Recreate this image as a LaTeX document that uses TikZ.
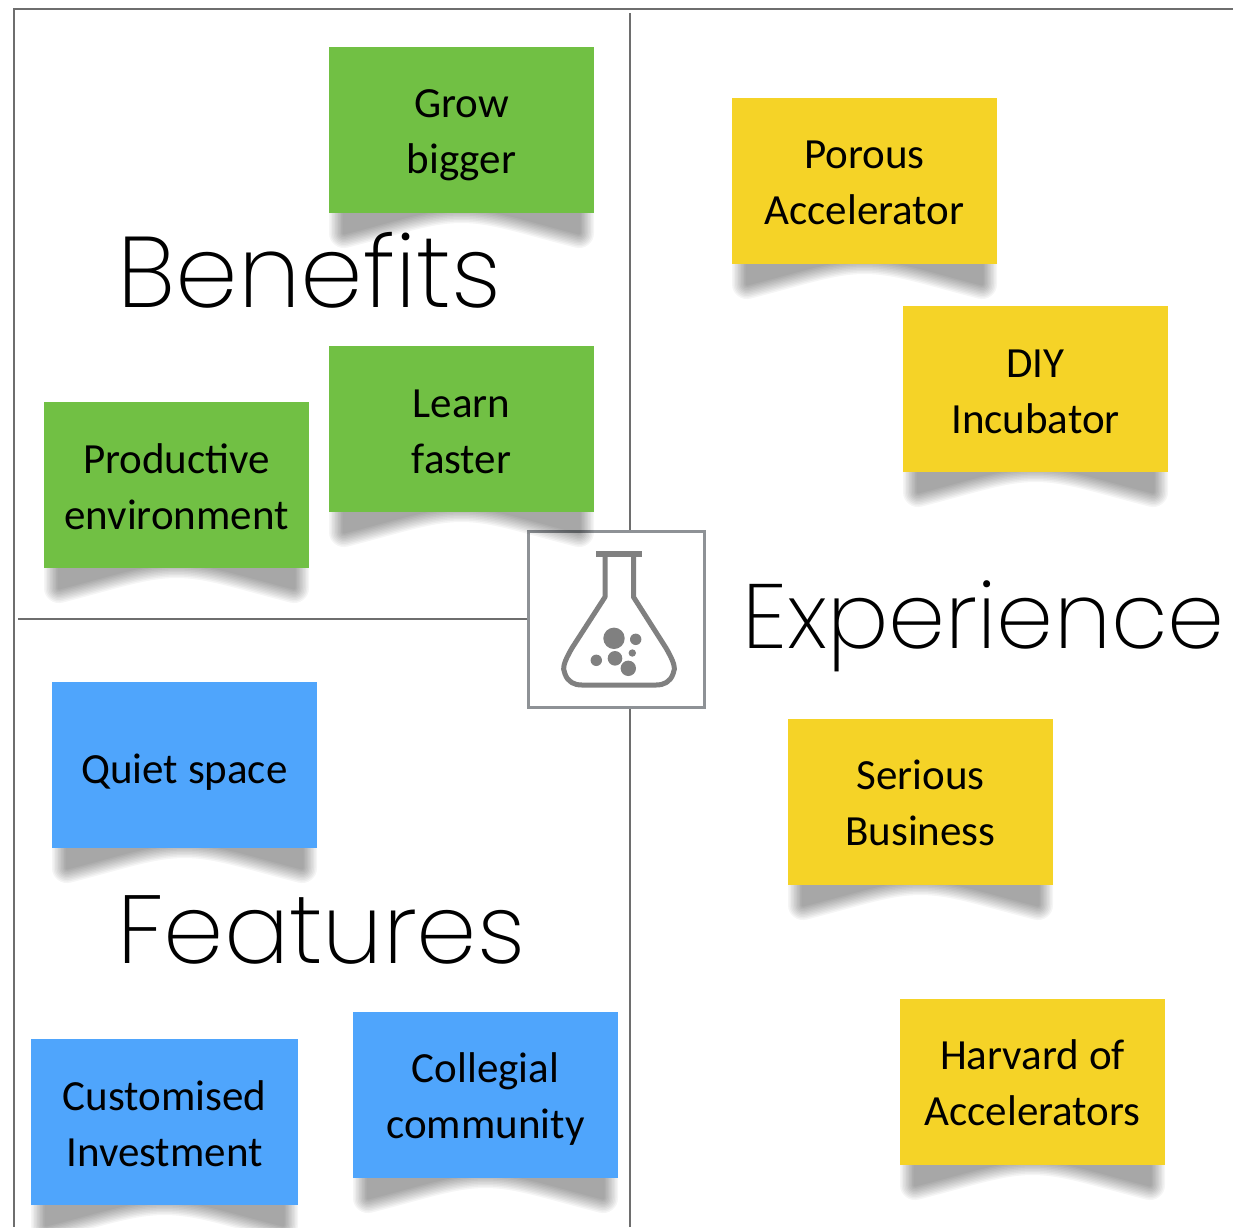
\documentclass[tikz,border=0pt]{standalone}
\usepackage{fontspec}
\setmainfont{Carlito}
\newfontfamily\headfont{Poppins ExtraLight}
\definecolor{notegreen}{HTML}{71C044}
\definecolor{noteyellow}{HTML}{F5D327}
\definecolor{noteblue}{HTML}{4FA5FC}
\definecolor{rulegrey}{HTML}{6E6E6E}
\definecolor{boxgrey}{HTML}{8E9296}
\definecolor{flaskgrey}{HTML}{808080}
\newcommand{\noteshadow}[4]{%
  \foreach \lw in {30,27,24,21,18,15,12,9,6,3}{
    \begin{scope}[transparency group,opacity=0.04]
    \draw[black,fill=black,line width=\lw pt,line join=round]
      (#1+15,#2+40) -- (#1+15,#4+20)
      .. controls (#1+70,#4+6) and (#1+100,#4-5) .. ({(#1+#3)/2},#4-5)
      .. controls (#3-100,#4-5) and (#3-70,#4+6) .. (#3-15,#4+20)
      -- (#3-15,#2+40) -- cycle;
    \end{scope}
  }}
\tikzset{
  noteboxs/.style={inner sep=0pt},
  notetext/.style={inner sep=0pt,text=black,align=center,anchor=base,font=\fontsize{43}{56}\selectfont},
  headtext/.style={inner sep=0pt,text=black},
  gridline/.style={draw=rulegrey,line width=2pt},
  flaskline/.style={draw=flaskgrey,line width=5pt,line join=round}
}
% x1,y1,x2,y2,name,colour,text; last-line baseline lies #8 above the bottom edge
\newcommand{\notebox}[8]{%
  \node[noteboxs,fill=#6,minimum width=#3 pt-#1 pt,minimum height=#4 pt-#2 pt] (#5) at ({(#1+#3)/2},{(#2+#4)/2}) {};
  \node[notetext] (#5-text) at ({(#1+#3)/2},{#4-#8}) {#7};}
\begin{document}
\begin{tikzpicture}[x=1pt,y=-1pt]
\useasboundingbox (0,0) rectangle (1233,1227);
\fill[white] (0,0) rectangle (1233,1227);
% frame
\coordinate (frameTR) at (1233,9);
\coordinate (frameTL) at (14,9);
\coordinate (frameBL) at (14,1227);
\coordinate (vtop) at (630,13);
\coordinate (vbot) at (630,1227);
\coordinate (hleft) at (18,619);
\draw[gridline] (frameTR) -- (frameTL) -- (frameBL);
% centre box
\node[draw=boxgrey,fill=white,line width=3pt,minimum width=176pt,minimum height=176pt,inner sep=0pt] (centre) at (616.5,619) {};
\draw[gridline] (vtop) -- (vtop |- centre.north);
\draw[gridline] (vbot) -- (vbot |- centre.south);
\draw[gridline] (hleft) -- (centre.west |- hleft);
% flask
\fill[flaskgrey] (596,551) rectangle (642,557);
\draw[flaskline] (605,556) -- (605,597) -- (572,648)
  .. controls (564,662) and (562,668) .. (565,674)
  .. controls (568,682) and (574,685) .. (582,685) -- (656,685)
  .. controls (664,685) and (670,682) .. (673,674)
  .. controls (676,668) and (674,662) .. (666,648)
  -- (633.5,597) -- (633.5,556);
\fill[flaskgrey] (614,638.3) circle (10.7) (635.7,639.3) circle (5.7)
  (632.3,653) circle (3.7) (615,658.3) circle (7.3)
  (596.3,660.3) circle (5.7) (628.3,668.3) circle (7.7);
% shadows
\noteshadow{329}{47}{594}{213}
\noteshadow{732}{98}{997}{264}
\noteshadow{903}{306}{1168}{472}
\noteshadow{44}{402}{309}{568}
\noteshadow{329}{346}{594}{512}
\noteshadow{52}{682}{317}{848}
\noteshadow{788}{719}{1053}{885}
\noteshadow{900}{999}{1165}{1165}
\noteshadow{31}{1039}{298}{1205}
\noteshadow{353}{1012}{618}{1178}
% notes
\notebox{329}{47}{594}{213}{grow}{notegreen}{Grow\\bigger}{39.5}
\notebox{732}{98}{997}{264}{porous}{noteyellow}{Porous\\Accelerator}{39.5}
\notebox{903}{306}{1168}{472}{diy}{noteyellow}{DIY\\Incubator}{38.5}
\notebox{44}{402}{309}{568}{productive}{notegreen}{Productive\\environment}{39}
\notebox{329}{346}{594}{512}{learn}{notegreen}{Learn\\faster}{39}
\notebox{52}{682}{317}{848}{quiet}{noteblue}{Quiet space}{65}
\notebox{788}{719}{1053}{885}{serious}{noteyellow}{Serious\\Business}{39.5}
\notebox{900}{999}{1165}{1165}{harvard}{noteyellow}{Harvard of\\Accelerators}{39.5}
\notebox{31}{1039}{298}{1205}{customised}{noteblue}{Customised\\Investment}{38.5}
\notebox{353}{1012}{618}{1178}{collegial}{noteblue}{Collegial\\community}{39.5}
% headings
\node[headtext,anchor=base west,font=\headfont\fontsize{100.4}{102}\selectfont] (benefits) at (117,307) {Benefits};
\node[headtext,anchor=base west,font=\headfont\fontsize{91.4}{102}\selectfont] (experience) at (742,648) {Experience};
\node[headtext,anchor=base west,font=\headfont\fontsize{96.7}{102}\selectfont] (features) at (117,963) {Features};
\end{tikzpicture}
\end{document}
